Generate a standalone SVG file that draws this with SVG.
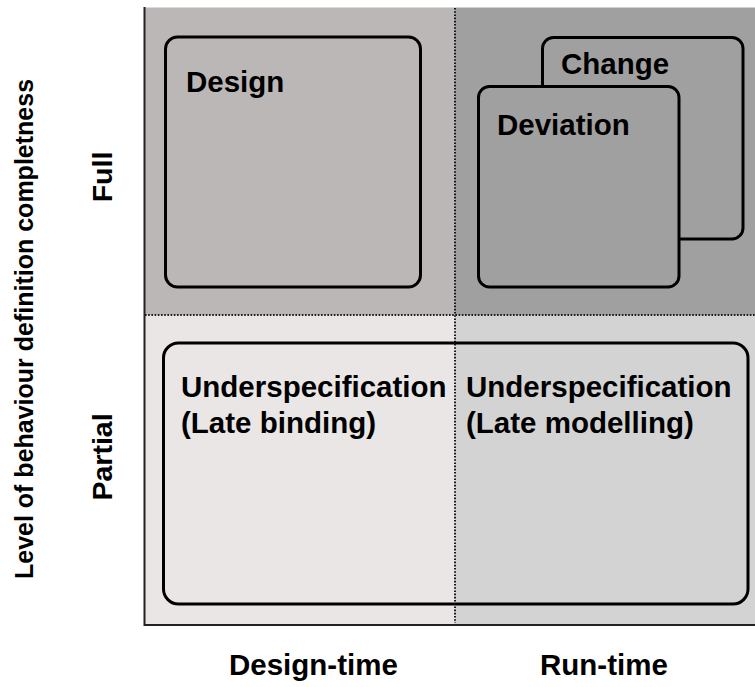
<svg xmlns="http://www.w3.org/2000/svg" width="755" height="687" viewBox="0 0 755 687">
<style>
text{font-family:"Liberation Sans",Arial,sans-serif;font-weight:bold;fill:#000}
.lbl{font-size:29.5px}
.ax{font-size:28.5px}
.box{stroke:#000;stroke-width:3}
.dot{stroke:#1a1a1a;stroke-width:2;stroke-dasharray:1.6 1.6;fill:none}
</style>
<rect width="755" height="687" fill="#fff"/>
<g id="quadrants">
<rect x="145" y="7.5" width="310" height="307.5" fill="#bbb7b6"/>
<rect x="455" y="7.5" width="300" height="307.5" fill="#a0a0a0"/>
<rect x="145" y="315" width="310" height="310" fill="#e9e6e5"/>
<rect x="455" y="315" width="300" height="310" fill="#d3d3d3"/>
</g>
<g id="grid">
<line class="dot" x1="145" y1="315" x2="755" y2="315"/>
<line class="dot" x1="455" y1="8" x2="455" y2="623"/>
<line x1="144.5" y1="7" x2="144.5" y2="626" stroke="#222" stroke-width="2"/>
<line x1="144" y1="625" x2="755" y2="625" stroke="#222" stroke-width="2"/>
</g>
<g id="design">
<rect class="box" x="165.5" y="37" width="255" height="250" rx="12" fill="#bbb7b6"/>
<text class="lbl" x="186" y="92">Design</text>
</g>
<g id="change">
<rect class="box" x="542.5" y="37.5" width="200.5" height="201.5" rx="11" fill="#a0a0a0"/>
<text class="lbl" x="561" y="74">Change</text>
</g>
<g id="deviation">
<rect class="box" x="478.5" y="86.5" width="200.5" height="200.5" rx="11" fill="#a0a0a0"/>
<text class="lbl" x="497" y="135">Deviation</text>
</g>
<g id="underspecification">
<rect class="box" x="163.5" y="343" width="584.5" height="261" rx="15" fill="none"/>
<text class="lbl" x="181" y="397">Underspecification</text>
<text class="lbl" x="181" y="433">(Late binding)</text>
<text class="lbl" x="466" y="397">Underspecification</text>
<text class="lbl" x="466" y="433">(Late modelling)</text>
</g>
<g id="axes-labels">
<text class="lbl" x="229" y="675">Design-time</text>
<text class="lbl" x="540" y="675">Run-time</text>
<text class="ax" transform="translate(112,177) rotate(-90)" text-anchor="middle">Full</text>
<text class="ax" transform="translate(112,457) rotate(-90)" text-anchor="middle">Partial</text>
<text transform="translate(33,329) rotate(-90)" text-anchor="middle" font-size="25">Level of behaviour definition completness</text>
</g>
</svg>
